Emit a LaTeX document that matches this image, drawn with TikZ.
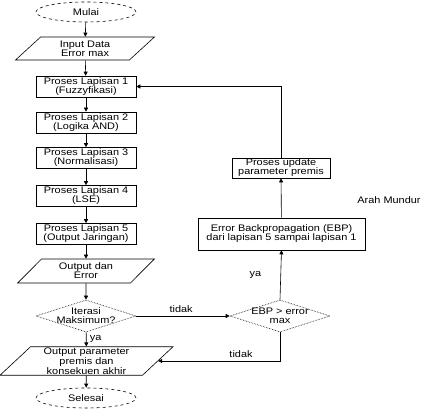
\documentclass[tikz,border=0pt]{standalone}
\usepackage{fontspec}
\setmainfont{Liberation Sans}[FakeStretch=1.15]
\usetikzlibrary{arrows.meta,shapes.geometric}

\begin{document}
\begin{tikzpicture}[x=1pt,y=-1pt,
  font=\fontsize{9.5}{9}\selectfont,
  line width=0.6pt,
  >={Triangle[length=4pt,width=4pt]},
  terminal/.style={draw,ellipse,dashed,minimum width=100pt,minimum height=20pt},
  proses/.style={draw,rectangle,align=center,inner sep=1pt,minimum width=100pt,minimum height=21pt},
  io/.style={draw,trapezium,trapezium left angle=50,trapezium right angle=130,
    trapezium stretches=true,align=center,inner sep=1pt},
  keputusan/.style={draw,diamond,densely dotted,align=center,inner sep=-1.5pt,aspect=3,
    minimum width=100pt,minimum height=32pt}]
  \useasboundingbox (0,0) rectangle (421,409);
  % alur maju
  \node[terminal] (mulai) at (86,12) {Mulai};
  \node[io,minimum width=140pt,minimum height=23pt] (input) at (85,48.5) {Input Data\\Error max};
  \node[proses] (lap1) at (86,86.5) {Proses Lapisan 1\\(Fuzzyfikasi)};
  \node[proses] (lap2) at (86,122.5) {Proses Lapisan 2\\(Logika AND)};
  \node[proses] (lap3) at (86,158) {Proses Lapisan 3\\(Normalisasi)};
  \node[proses] (lap4) at (86,196) {Proses Lapisan 4\\(LSE)};
  \node[proses] (lap5) at (86,234) {Proses Lapisan 5\\(Output Jaringan)};
  \node[io,minimum width=138pt,minimum height=24pt] (outerr) at (86,271) {Output dan\\Error};
  \node[keputusan] (iterasi) at (86,316) {Iterasi\\Maksimum?};
  \node[io,minimum width=173pt,minimum height=24pt,font=\fontsize{9.5}{7.5}\selectfont] (outpar) at (86.5,361) {Output parameter\\premis dan\\konsekuen akhir};
  \node[terminal] (selesai) at (86,398) {Selesai};
  % alur mundur
  \node[keputusan] (cekebp) at (280,316) {EBP > error\\max};
  \node[proses,minimum width=167pt,minimum height=32pt] (ebp) at (281.5,234) {Error Backpropagation (EBP)\\dari lapisan 5 sampai lapisan 1};
  \node[proses,minimum width=98pt,minimum height=20pt] (update) at (281,168) {Proses update\\parameter premis};
  \node (arah) at (389,200) {Arah Mundur};

  \draw[->] (mulai) -- (input);
  \draw[->] (input) -- (lap1);
  \draw[->] (lap1) -- (lap2);
  \draw[->] (lap2) -- (lap3);
  \draw[->] (lap3) -- (lap4);
  \draw[->] (lap4) -- (lap5);
  \draw[->] (lap5) -- (outerr);
  \draw[->] (outerr) -- (iterasi);
  \draw[->] (iterasi) -- node[right,pos=0.45] (ya1) {ya} (outpar);
  \draw[->] (outpar) -- (selesai);
  \draw[->] (iterasi.east) -- node[above,pos=0.48] (tidak1) {tidak} (cekebp.west);
  \draw[->] (cekebp.north) -- node[left,pos=0.5,xshift=-16pt] (ya2) {ya} (ebp.south);
  \draw[->] (ebp) -- (update);
  \draw[->] (update.north) |- (lap1.east);
  \draw[->] (cekebp.south) |- node[above,pos=0.66] (tidak2) {tidak} (outpar.east);
\end{tikzpicture}
\end{document}
